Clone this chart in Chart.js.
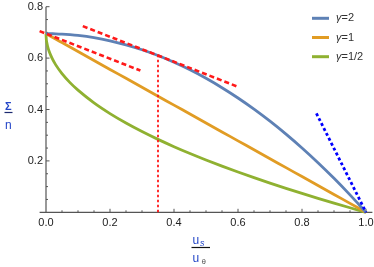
<!DOCTYPE html>
<html>
<head>
<meta charset="utf-8">
<script src="https://cdn.jsdelivr.net/npm/chart.js@4.4.1/dist/chart.umd.min.js"></script>
<style>
  body { margin: 0; background: #fff; }
  #wrap { width: 374px; height: 267px; }
</style>
</head>
<body>
<div id="wrap"><canvas id="sigmaChart"></canvas></div>
<script>
// u_s / u_theta sample points
const xs = [0, 0.001, 0.0025, 0.005, 0.01, 0.02, 0.03, 0.05, 0.075, 0.1, 0.15, 0.2, 0.25, 0.3, 0.35,
  0.4, 0.45, 0.5, 0.55, 0.6, 0.65, 0.7, 0.75, 0.8, 0.85, 0.9, 0.95, 1];

// Sigma / n
const gamma2 = [0.695, 0.695, 0.695, 0.695, 0.6949, 0.6947, 0.6944, 0.6933, 0.6911, 0.6881, 0.6794, 0.6672,
  0.6516, 0.6325, 0.6099, 0.5838, 0.5543, 0.5213, 0.4848, 0.4448, 0.4014, 0.3545, 0.3041, 0.2502,
  0.1929, 0.1321, 0.0678, 0];
const gamma1 = [0.695, 0.6943, 0.6933, 0.6915, 0.6881, 0.6811, 0.6742, 0.6603, 0.6429, 0.6255, 0.5908, 0.556,
  0.5213, 0.4865, 0.4518, 0.417, 0.3823, 0.3475, 0.3128, 0.278, 0.2433, 0.2085, 0.1738, 0.139,
  0.1043, 0.0695, 0.0348, 0];
const gammaHalf = [0.695, 0.673, 0.6603, 0.6459, 0.6255, 0.5967, 0.5746, 0.5396, 0.5046, 0.4752, 0.4258, 0.3842,
  0.3475, 0.3143, 0.2838, 0.2554, 0.2288, 0.2036, 0.1796, 0.1567, 0.1347, 0.1135, 0.0931, 0.0734,
  0.0542, 0.0357, 0.0176, 0];
const seriesLabels = ['γ=2', 'γ=1', 'γ=1/2'];

// guide lines
const tangentX = [0.115, 0.595], tangentY = [0.7245, 0.4907];
const parallelX = [-0.02, 0.295], parallelY = [0.705, 0.5515];
const markerX = [0.35, 0.35], markerY = [0, 0.615];
const slopeX = [0.845, 1.0], slopeY = [0.385, 0];

// axis ticks
const xTicks = [0, 0.2, 0.4, 0.6, 0.8, 1.0];
const yTicks = [0.2, 0.4, 0.6, 0.8];

const pts = (xa, ya) => xa.map((x, i) => ({ x: x, y: ya[i] }));

function curve(label, ys, color) {
  return {
    label: label, data: pts(xs, ys), borderColor: color, borderWidth: 2.8,
    pointRadius: 0, cubicInterpolationMode: 'monotone', order: 1
  };
}
function guide(xa, ya, color, width, dash) {
  return {
    label: '', data: pts(xa, ya), borderColor: color, borderWidth: width,
    borderDash: dash, pointRadius: 0, order: 0
  };
}

const FONT = '"Liberation Sans", Arial, sans-serif';

const mmaAxes = {
  id: 'mmaAxes',
  beforeDatasetsDraw(chart) {
    const { ctx, scales: { x, y } } = chart;
    const x0 = x.getPixelForValue(0), y0 = y.getPixelForValue(0);
    ctx.save();
    ctx.strokeStyle = '#555';
    ctx.lineWidth = 1.2;
    ctx.beginPath();
    ctx.moveTo(x.left, y0); ctx.lineTo(x.right, y0);
    ctx.moveTo(x0, y.getPixelForValue(0.8)); ctx.lineTo(x0, y0);
    ctx.stroke();
    ctx.lineWidth = 1;
    ctx.beginPath();
    for (let i = 1; i <= 20; i++) {
      const px = x.getPixelForValue(i * 0.05);
      const len = i % 4 === 0 ? 3.5 : 2;
      ctx.moveTo(px, y0); ctx.lineTo(px, y0 - len);
    }
    for (let i = 1; i <= 16; i++) {
      const py = y.getPixelForValue(i * 0.05);
      const len = i % 4 === 0 ? 3.5 : 2;
      ctx.moveTo(x0, py); ctx.lineTo(x0 + len, py);
    }
    ctx.stroke();

    ctx.fillStyle = '#222';
    ctx.font = '11px ' + FONT;
    ctx.textAlign = 'center';
    ctx.textBaseline = 'top';
    xTicks.forEach(v => ctx.fillText(v.toFixed(1), x.getPixelForValue(v), y0 + 5));
    ctx.textAlign = 'right';
    ctx.textBaseline = 'middle';
    yTicks.forEach(v => ctx.fillText(v.toFixed(1), x0 - 3, y.getPixelForValue(v)));
    ctx.restore();
  },
  afterDraw(chart) {
    const { ctx } = chart;
    ctx.save();
    ctx.setTransform(1, 0, 0, 1, 0, 0);
    // y label: Sigma over n
    ctx.fillStyle = '#2446c8';
    ctx.textAlign = 'left';
    ctx.textBaseline = 'alphabetic';
    ctx.font = 'bold 11px ' + FONT;
    ctx.fillText('Σ', 5, 109.5);
    ctx.font = '12px ' + FONT;
    ctx.fillText('n', 5, 128.5);
    ctx.strokeStyle = '#1c2a70';
    ctx.lineWidth = 1.2;
    ctx.beginPath(); ctx.moveTo(4.5, 112.5); ctx.lineTo(12.5, 112.5); ctx.stroke();

    // x label: u_s over u_theta
    ctx.font = '12px ' + FONT;
    ctx.fillText('u', 192.5, 244);
    ctx.fillText('u', 192.5, 262);
    ctx.font = 'italic 9px ' + FONT;
    ctx.fillText('s', 200, 246);
    ctx.fillStyle = '#555';
    ctx.font = '8px ' + FONT;
    ctx.fillText('θ', 201.5, 264);
    ctx.strokeStyle = '#111';
    ctx.beginPath(); ctx.moveTo(191.5, 247.5); ctx.lineTo(210, 247.5); ctx.stroke();

    // legend
    const rows = [18.3, 37.5, 56.7];
    ctx.textBaseline = 'middle';
    chart.data.datasets.slice(0, 3).forEach((ds, i) => {
      ctx.strokeStyle = ds.borderColor;
      ctx.lineWidth = 3;
      ctx.beginPath(); ctx.moveTo(312, rows[i]); ctx.lineTo(329, rows[i]); ctx.stroke();
      ctx.fillStyle = '#333';
      ctx.font = 'italic 11px ' + FONT;
      ctx.fillText('γ', 336, rows[i]);
      const w = ctx.measureText('γ').width;
      ctx.font = '11px ' + FONT;
      ctx.fillText(ds.label.slice(1), 336 + w, rows[i]);
    });
    ctx.restore();
  }
};

new Chart(document.getElementById('sigmaChart'), {
  type: 'line',
  data: {
    datasets: [
      curve(seriesLabels[0], gamma2, '#5e81b5'),
      curve(seriesLabels[1], gamma1, '#e19c24'),
      curve(seriesLabels[2], gammaHalf, '#8fb131'),
      guide(tangentX, tangentY, '#ff1a1a', 2.6, [5, 3]),
      guide(parallelX, parallelY, '#ff1a1a', 2.6, [5, 3]),
      guide(markerX, markerY, '#ff1a1a', 1.8, [2.5, 2.5]),
      guide(slopeX, slopeY, '#0000ff', 2.8, [3, 2.5])
    ]
  },
  options: {
    responsive: true,
    maintainAspectRatio: false,
    animation: false,
    clip: false,
    layout: { padding: { left: 39.6, right: 1.6, top: 6.7, bottom: 54.7 } },
    plugins: { legend: { display: false }, tooltip: { enabled: false } },
    scales: {
      x: { type: 'linear', min: -0.02, max: 1.02, display: false },
      y: { min: 0, max: 0.8, display: false }
    }
  },
  plugins: [mmaAxes]
});
</script>
</body>
</html>
